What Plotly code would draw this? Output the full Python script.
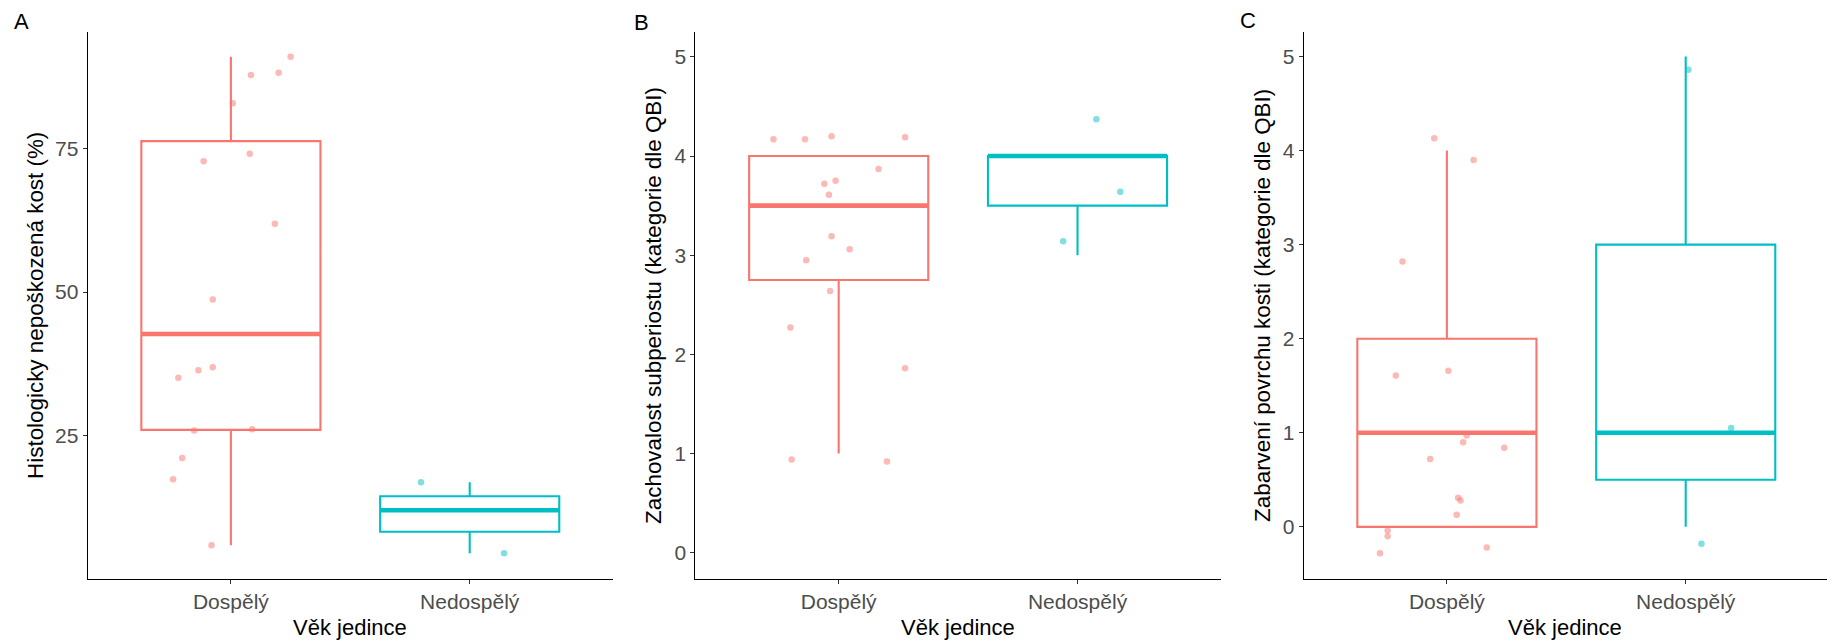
import plotly.graph_objects as go

# ---- shared categories -------------------------------------------------
categories = ["Dospělý", "Nedospělý"]
cat_pos = [1, 2]
x_title = "Věk jedince"

# ---- panel A: histologically undamaged bone (%) -------------------------
a_title = "Histologicky nepoškozená kost (%)"
a_q1 = [26.0, 8.25]
a_median = [42.7, 12.0]
a_q3 = [76.3, 14.45]
a_low = [5.9, 4.5]
a_high = [91.0, 16.9]
a_adult_y = [91.0, 88.2, 87.8, 82.9, 74.1, 72.8, 61.9, 48.7,
             36.9, 36.4, 35.1, 26.1, 25.9, 21.1, 17.4, 5.9]
a_adult_jit = [0.250, 0.200, 0.084, 0.008, 0.079, -0.114, 0.184, -0.076,
               -0.076, -0.136, -0.220, 0.089, -0.154, -0.204, -0.242, -0.081]
a_juv_y = [16.9, 4.5]
a_juv_jit = [-0.204, 0.144]

# ---- panel B: subperiosteal preservation (QBI category) ----------------
b_title = "Zachovalost subperiostu (kategorie dle QBI)"
b_q1 = [2.75, 3.5]
b_median = [3.5, 4.0]
b_q3 = [4.0, 4.0]
b_low = [1.0, 3.0]
b_high = [4.0, 4.0]
b_adult_y = [4.17, 4.17, 4.20, 4.19, 3.87, 3.75, 3.72, 3.61,
             3.19, 3.06, 2.95, 2.64, 2.27, 1.86, 0.94, 0.92]
b_adult_jit = [-0.273, -0.141, -0.030, 0.278, 0.167, -0.013, -0.060, -0.041,
               -0.030, 0.046, -0.136, -0.036, -0.202, 0.278, -0.197, 0.202]
b_juv_y = [4.37, 3.64, 3.14]
b_juv_jit = [0.079, 0.179, -0.060]

# ---- panel C: bone surface staining (QBI category) ---------------------
c_title = "Zabarvení povrchu kosti (kategorie dle QBI)"
c_q1 = [0.0, 0.5]
c_median = [1.0, 1.0]
c_q3 = [2.0, 3.0]
c_low = [0.0, 0.0]
c_high = [4.0, 5.0]
c_adult_y = [4.13, 3.90, 2.82, 1.66, 1.61, 0.97, 0.90, 0.84,
             0.72, 0.31, 0.28, 0.13, -0.04, -0.10, -0.22, -0.28]
c_adult_jit = [-0.053, 0.112, -0.186, 0.006, -0.214, 0.083, 0.068, 0.240,
               -0.070, 0.047, 0.057, 0.041, -0.248, -0.248, 0.167, -0.280]
c_juv_y = [4.86, 1.05, -0.18]
c_juv_jit = [0.011, 0.190, 0.066]

# ---- styling -----------------------------------------------------------
COLORS = ["#F8766D", "#00BFC4"]
POINT_COLORS = ["rgba(248,118,109,0.5)", "rgba(0,191,196,0.5)"]
FONT = "Liberation Sans, Arial, sans-serif"
BOX_W = 0.75
W, H = 1827, 642

panels = [
    dict(ax="", title=a_title, q1=a_q1, med=a_median, q3=a_q3, lo=a_low, hi=a_high,
         pts=[(a_adult_jit, a_adult_y), (a_juv_jit, a_juv_y)],
         yrange=[0.1, 95.3], ytick=[25, 50, 75],
         xdom=[87.6, 613.0], xrange=[0.4, 2.6], letter="A", lx=21.7, ly=21.6, tx=35.6),
    dict(ax="2", title=b_title, q1=b_q1, med=b_median, q3=b_q3, lo=b_low, hi=b_high,
         pts=[(b_adult_jit, b_adult_y), (b_juv_jit, b_juv_y)],
         yrange=[-0.26, 5.25], ytick=[0, 1, 2, 3, 4, 5],
         xdom=[695.4, 1220.8], xrange=[0.4, 2.6], letter="B", lx=641, ly=22.0, tx=653.6),
    dict(ax="3", title=c_title, q1=c_q1, med=c_median, q3=c_q3, lo=c_low, hi=c_high,
         pts=[(c_adult_jit, c_adult_y), (c_juv_jit, c_juv_y)],
         yrange=[-0.55, 5.26], ytick=[0, 1, 2, 3, 4, 5],
         xdom=[1303.6, 1827.0], xrange=[0.4, 2.5916], letter="C", lx=1248, ly=20.5, tx=1262.6),
]

PLOT_TOP, PLOT_BOTTOM = 32.0, 578.6
ydom = [(H - PLOT_BOTTOM) / H, (H - PLOT_TOP) / H]

fig = go.Figure()
annotations = []

for p in panels:
    xa, ya = "x" + p["ax"], "y" + p["ax"]
    # boxes from precomputed summary statistics
    for i, c in enumerate(cat_pos):
        fig.add_trace(go.Box(
            x=[c], q1=[p["q1"][i]], median=[p["med"][i]], q3=[p["q3"][i]],
            lowerfence=[p["lo"][i]], upperfence=[p["hi"][i]],
            width=BOX_W, whiskerwidth=0, fillcolor="white",
            line=dict(color=COLORS[i], width=2.1), boxpoints=False,
            xaxis=xa, yaxis=ya, showlegend=False, hoverinfo="skip"))
    # jittered observations
    for i, c in enumerate(cat_pos):
        jit, ys = p["pts"][i]
        fig.add_trace(go.Scatter(
            x=[c + j for j in jit], y=ys, mode="markers",
            marker=dict(color=POINT_COLORS[i], size=6.5, line=dict(width=0)),
            xaxis=xa, yaxis=ya, showlegend=False, hoverinfo="skip"))
    # thick median bars
    for i, c in enumerate(cat_pos):
        fig.add_trace(go.Scatter(
            x=[c - BOX_W / 2, c + BOX_W / 2], y=[p["med"][i]] * 2,
            mode="lines", line=dict(color=COLORS[i], width=4.6),
            xaxis=xa, yaxis=ya, showlegend=False, hoverinfo="skip"))

    axis_common = dict(showgrid=False, zeroline=False, showline=True,
                       linecolor="black", linewidth=1, ticks="outside",
                       ticklen=4, tickwidth=1, tickcolor="#333333",
                       tickfont=dict(family=FONT, size=21, color="#4D4D4D"),
                       automargin=False)
    fig.update_layout(**{
        "xaxis" + p["ax"]: dict(domain=[p["xdom"][0] / W, p["xdom"][1] / W],
                                range=p["xrange"], tickvals=cat_pos, ticktext=categories,
                                anchor=ya, **axis_common),
        "yaxis" + p["ax"]: dict(domain=ydom, range=p["yrange"], tickvals=p["ytick"],
                                anchor=xa, **axis_common),
    })

    mid_x = (p["xdom"][0] + min(p["xdom"][1], p["xdom"][0] + 525.4)) / 2
    annotations += [
        dict(text=p["letter"], x=p["lx"] / W, y=(H - p["ly"]) / H, xref="paper", yref="paper",
             xanchor="center", yanchor="middle", showarrow=False,
             font=dict(family=FONT, size=22, color="black")),
        dict(text=p["title"], x=p["tx"] / W, y=sum(ydom) / 2, xref="paper", yref="paper",
             xanchor="center", yanchor="middle", textangle=-90, showarrow=False,
             font=dict(family=FONT, size=22.4, color="black")),
        dict(text=x_title, x=mid_x / W, y=(H - 627.3) / H, xref="paper", yref="paper",
             xanchor="center", yanchor="middle", showarrow=False,
             font=dict(family=FONT, size=22, color="black")),
    ]

fig.update_layout(
    width=W, height=H,
    margin=dict(l=0, r=0, t=0, b=0),
    paper_bgcolor="white", plot_bgcolor="white",
    annotations=annotations,
    showlegend=False,
)

fig.write_html("out.html")
